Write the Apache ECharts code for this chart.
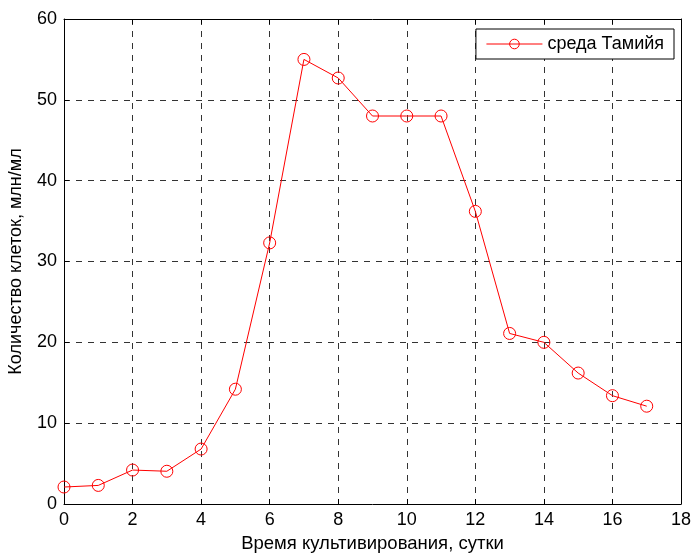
<!DOCTYPE html>
<html>
<head>
<meta charset="utf-8">
<script src="https://cdn.jsdelivr.net/npm/echarts@6/dist/echarts.min.js"></script>
<style>
html, body { margin: 0; padding: 0; background: #fff; }
#chart { width: 693px; height: 555px; }
</style>
</head>
<body>
<div id="chart"></div>
<script>
var days = [0, 1, 2, 3, 4, 5, 6, 7, 8, 9, 10, 11, 12, 13, 14, 15, 16, 17];
var cells = [2.1, 2.3, 4.2, 4.05, 6.8, 14.2, 32.3, 55.0, 52.7, 48.0, 48.0, 48.0, 36.2, 21.1, 20.0, 16.2, 13.4, 12.1];
var seriesName = 'среда Тамийя';
var xTitle = 'Время культивирования, сутки';
var yTitle = 'Количество клеток, млн/мл';

var font = 'Liberation Sans, Arial, sans-serif';
var chart = echarts.init(document.getElementById('chart'));

var gridDash = { show: true, lineStyle: { color: '#333', type: [6, 6], width: 1 } };
var tickIn = { show: true, inside: true, length: 5, lineStyle: { color: '#000' } };
var lineBox = { show: true, onZero: false, lineStyle: { color: '#000', width: 1 } };
var labelStyle = { fontSize: 18, color: '#000', fontFamily: font };

var option = {
  backgroundColor: '#fff',
  animation: false,
  textStyle: { fontFamily: font },
  grid: { left: 64, right: 12, top: 19, bottom: 51, outerBoundsMode: 'none' },
  legend: {
    right: 19,
    top: 29,
    padding: [6, 10, 6, 10],
    borderColor: '#000',
    borderWidth: 1,
    backgroundColor: '#fff',
    itemWidth: 56,
    itemHeight: 12,
    textStyle: { fontSize: 18, color: '#000', fontFamily: font },
    lineStyle: { width: 1 },
    itemStyle: { color: 'rgba(0,0,0,0)', borderColor: '#ff0000', borderWidth: 1 },
    data: [seriesName]
  },
  xAxis: [{
    type: 'value',
    min: 0, max: 18, interval: 2,
    name: xTitle,
    nameLocation: 'middle',
    nameGap: 30,
    nameTextStyle: { fontSize: 18.5, color: '#000', fontFamily: font },
    axisLine: lineBox,
    axisTick: tickIn,
    axisLabel: Object.assign({ margin: 7 }, labelStyle),
    splitLine: gridDash
  }, {
    type: 'value',
    position: 'top',
    min: 0, max: 18, interval: 2,
    axisLine: lineBox,
    axisTick: tickIn,
    axisLabel: { show: false },
    splitLine: { show: false }
  }],
  yAxis: [{
    type: 'value',
    min: 0, max: 60, interval: 10,
    name: yTitle,
    nameLocation: 'middle',
    nameGap: 39,
    nameTextStyle: labelStyle,
    axisLine: lineBox,
    axisTick: tickIn,
    axisLabel: Object.assign({ margin: 7 }, labelStyle),
    splitLine: gridDash
  }, {
    type: 'value',
    position: 'right',
    min: 0, max: 60, interval: 10,
    axisLine: lineBox,
    axisTick: tickIn,
    axisLabel: { show: false },
    splitLine: { show: false }
  }],
  series: [{
    name: seriesName,
    type: 'line',
    data: days.map(function (d, i) { return [d, cells[i]]; }),
    symbol: 'circle',
    symbolSize: 12,
    showAllSymbol: true,
    lineStyle: { color: '#ff0000', width: 1 },
    itemStyle: { color: 'rgba(0,0,0,0)', borderColor: '#ff0000', borderWidth: 1 },
    emphasis: { disabled: true }
  }]
};
chart.setOption(option);
</script>
</body>
</html>
